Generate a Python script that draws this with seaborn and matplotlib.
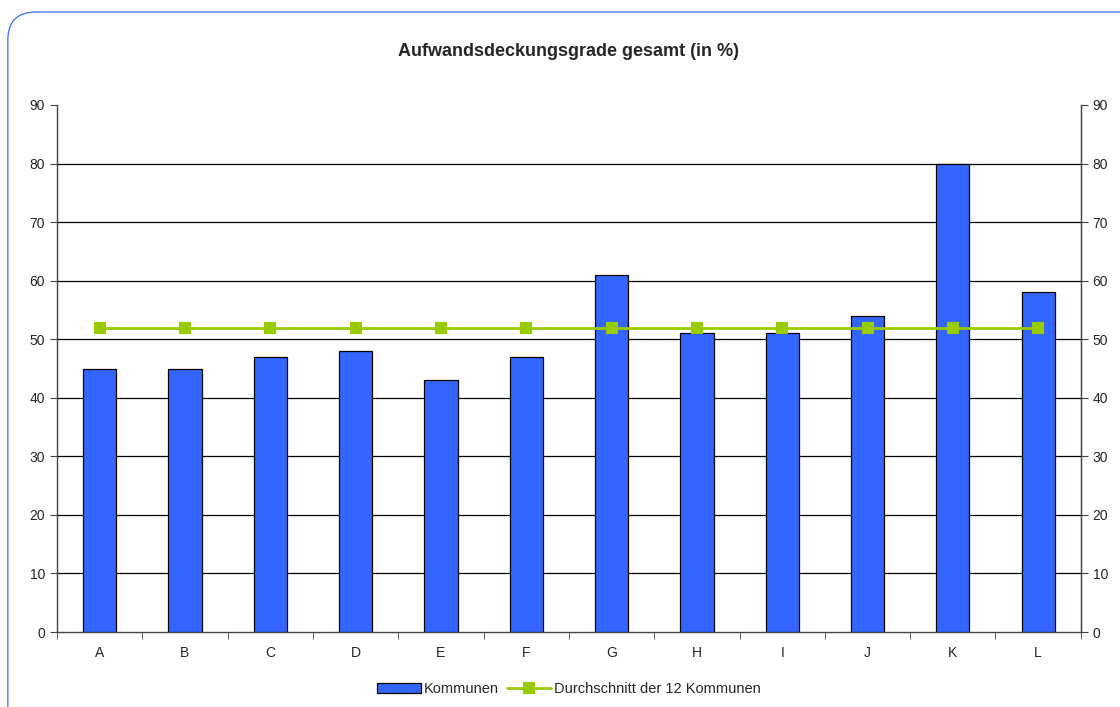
import numpy as np
import pandas as pd
import matplotlib
matplotlib.use("Agg")
import matplotlib.pyplot as plt
import seaborn as sns
from matplotlib.patches import FancyBboxPatch
from matplotlib.ticker import FixedLocator

# ── Data ────────────────────────────────────────────────────────────────────
kommunen = ["A", "B", "C", "D", "E", "F", "G", "H", "I", "J", "K", "L"]
deckungsgrad = [45, 45, 47, 48, 43, 47, 61, 51, 51, 54, 80, 58]
durchschnitt = [52] * 12

df = pd.DataFrame({"Kommune": kommunen, "Wert": deckungsgrad, "Schnitt": durchschnitt})

sns.set_style("white")
plt.rcParams["font.family"] = ["Liberation Sans", "DejaVu Sans"]

fig = plt.figure(figsize=(11.2, 7.07), dpi=100)
ax = fig.add_axes([0.0509, 0.106, 0.9141, 0.7455])

# rounded border, runs off the right and bottom edge like the original
border = FancyBboxPatch((0.007, -0.04), 1.02, 1.023, boxstyle="round,pad=0,rounding_size=0.025",
                        transform=fig.transFigure, fill=False, edgecolor="#4A7BF0", linewidth=1.0,
                        mutation_aspect=11.2 / 7.07, clip_on=False)
fig.patches.append(border)

sns.barplot(data=df, x="Kommune", y="Wert", color="#3366FF", edgecolor="black",
            linewidth=0.9, width=0.39, saturation=1, ax=ax, zorder=3, label="Kommunen")
sns.pointplot(data=df, x="Kommune", y="Schnitt", color="#99CC00", markers="s",
              linestyles="-", markersize=7, linewidth=2, ax=ax, zorder=4,
              label="Durchschnitt der 12 Kommunen")

ax.set_xlim(-0.5, 11.5)
ax.set_ylim(0, 90)
ax.set_yticks(range(0, 91, 10))
for y in range(10, 90, 10):
    ax.axhline(y, color="black", linewidth=0.9, zorder=1)

ax.set_xlabel(""); ax.set_ylabel("")
ax.tick_params(axis="x", which="major", length=0, pad=10, labelsize=10)
ax.xaxis.set_minor_locator(FixedLocator(np.arange(-0.5, 12, 1)))
ax.tick_params(axis="x", which="minor", length=5, direction="out", color="#444444", bottom=True)
ax.tick_params(axis="y", length=5, direction="out", left=True, labelsize=10, color="#444444")

ax.spines["top"].set_visible(False)
for s in ["left", "right", "bottom"]:
    ax.spines[s].set_color("#444444")
    ax.spines[s].set_linewidth(1.0)

ax2 = ax.twinx()
ax2.set_ylim(0, 90)
ax2.set_yticks(range(0, 91, 10))
ax2.tick_params(axis="y", length=5, direction="out", right=True, labelsize=10, color="#444444")
for s in ["top", "left", "bottom"]:
    ax2.spines[s].set_visible(False)
ax2.spines["right"].set_color("#444444")

ax.set_title("Aufwandsdeckungsgrade gesamt (in %)", fontsize=13, fontweight="bold", pad=35)

handles, labels = ax.get_legend_handles_labels()
order = [labels.index("Kommunen"), labels.index("Durchschnitt der 12 Kommunen")]
ax.legend([handles[i] for i in order], [labels[i] for i in order],
          loc="upper center", bbox_to_anchor=(0.5, -0.07), ncol=2, frameon=False,
          fontsize=10.5, handlelength=3, handletextpad=0.2, columnspacing=0.6)

fig.savefig("out.png", dpi=100)
